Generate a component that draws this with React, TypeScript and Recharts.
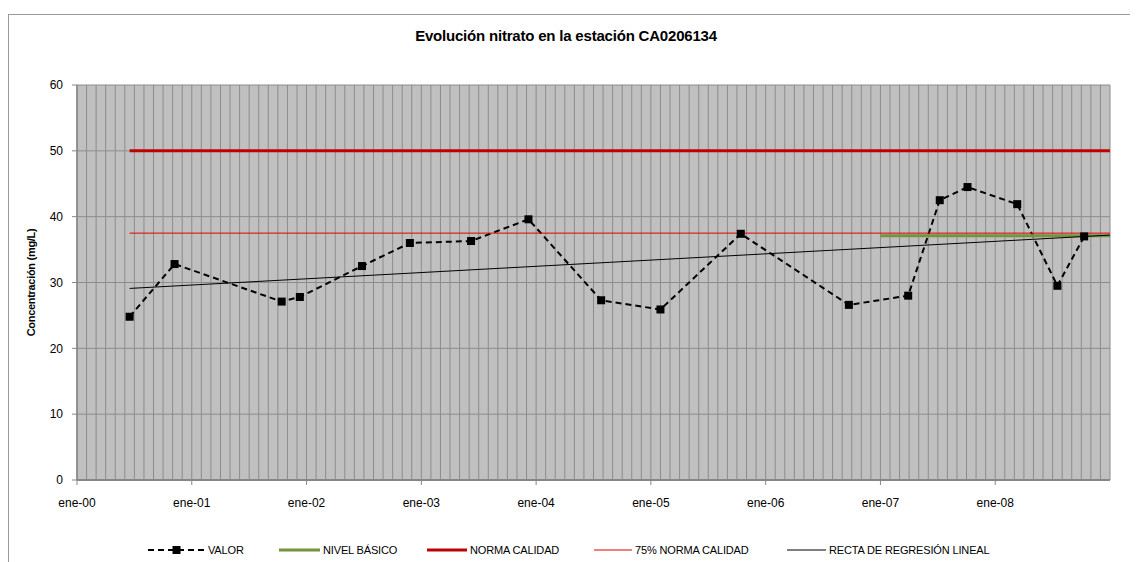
import React from "react";
import { LineChart, Line, XAxis, YAxis, CartesianGrid, Legend } from "recharts";

// meses contados desde ene-00
const valorMonths = [5.5, 10.2, 21.4, 23.3, 29.8, 34.8, 41.2, 47.2, 54.8, 61.0, 69.4, 80.7, 86.9, 90.2, 93.1, 98.3, 102.5, 105.3];
const valorValues = [24.8, 32.8, 27.1, 27.8, 32.5, 36.0, 36.3, 39.6, 27.3, 25.9, 37.4, 26.6, 28.0, 42.5, 44.5, 41.9, 29.5, 37.0];

const nivelMonths = [84, 108];
const nivelValues = [37.1, 37.1];

const normaMonths = [5.5, 108];
const normaValues = [50, 50];

const norma75Months = [5.5, 108];
const norma75Values = [37.5, 37.5];

const rectaMonths = [5.5, 108];
const rectaValues = [29.1, 37.2];

const yearLabels = ["ene-00", "ene-01", "ene-02", "ene-03", "ene-04", "ene-05", "ene-06", "ene-07", "ene-08"];
const yTicks = [0, 10, 20, 30, 40, 50, 60];
const monthTicks = Array.from({ length: 109 }, (_, i) => i);

const FONT = "Arial, 'Liberation Sans', sans-serif";

const toPoints = (months: number[], values: number[]) =>
  months.map((m, i) => ({ mes: m, valor: values[i] }));

const valorData = toPoints(valorMonths, valorValues);
const nivelData = toPoints(nivelMonths, nivelValues);
const normaData = toPoints(normaMonths, normaValues);
const norma75Data = toPoints(norma75Months, norma75Values);
const rectaData = toPoints(rectaMonths, rectaValues);

const SquareDot = (props: any) => {
  const { cx, cy } = props;
  if (cx == null || cy == null) return <g />;
  return <rect x={cx - 4} y={cy - 4} width={8} height={8} fill="#000" />;
};

const MonthTick = (props: any) => {
  const { x, y, payload } = props;
  const m = payload.value;
  if (m % 12 !== 0 || m >= 108) return <g />;
  return (
    <g>
      <line x1={x} y1={y} x2={x} y2={y + 5} stroke="#868686" />
      <text x={x} y={y + 27} textAnchor="middle" fontSize={12} fill="#000" fontFamily={FONT}>
        {yearLabels[m / 12]}
      </text>
    </g>
  );
};

const YTitle = (props: any) => {
  const vb = props.viewBox || { y: 77, height: 395 };
  const cx = 23;
  const cy = vb.y + vb.height / 2;
  return (
    <text
      x={cx}
      y={cy}
      transform={`rotate(-90, ${cx}, ${cy})`}
      textAnchor="middle"
      dominantBaseline="central"
      fontSize={11}
      fontWeight="bold"
      letterSpacing={-0.3}
      fontFamily={FONT}
      fill="#000"
    >
      Concentración (mg/L)
    </text>
  );
};

const legendItems = [
  { label: "VALOR", x: 140, w: 57, color: "#000", width: 2, dash: "6 4", square: true },
  { label: "NIVEL BÁSICO", x: 271, w: 41, color: "#77933C", width: 3 },
  { label: "NORMA CALIDAD", x: 419, w: 40, color: "#C00000", width: 3 },
  { label: "75% NORMA CALIDAD", x: 586, w: 38, color: "#E00000", width: 1 },
  { label: "RECTA DE REGRESIÓN LINEAL", x: 779, w: 39, color: "#000", width: 1 },
];

const LegendBox = () => (
  <div style={{ position: "relative", width: 1130, height: 16, fontFamily: FONT }}>
    {legendItems.map((it) => (
      <div key={it.label} style={{ position: "absolute", left: it.x, top: 0, height: 16, display: "flex", alignItems: "center" }}>
        <svg width={it.w} height={16} style={{ display: "block" }}>
          <line x1={0} y1={8} x2={it.w} y2={8} stroke={it.color} strokeWidth={it.width} strokeDasharray={it.dash} />
          {it.square && <rect x={it.w / 2 - 4} y={4} width={8} height={8} fill="#000" />}
        </svg>
        <span style={{ fontSize: 11, letterSpacing: -0.15, marginLeft: 3, color: "#000", whiteSpace: "nowrap" }}>{it.label}</span>
      </div>
    ))}
  </div>
);

export default function App() {
  return (
    <div style={{ position: "relative", width: 1130, height: 554, overflow: "hidden", background: "#fff" }}>
      <div
        style={{
          position: "absolute",
          left: 0,
          top: 6,
          width: 1200,
          height: 700,
          borderLeft: "1px solid #9a9a9a",
          borderTop: "1px solid #9a9a9a",
        }}
      />
      <div
        style={{
          position: "absolute",
          left: 0,
          top: 19,
          width: 1116,
          textAlign: "center",
          fontFamily: FONT,
          fontSize: 15,
          fontWeight: "bold",
          letterSpacing: -0.2,
          lineHeight: "18px",
        }}
      >
        Evolución nitrato en la estación CA0206134
      </div>
      <LineChart width={1130} height={554} margin={{ top: 77, right: 28, left: 0, bottom: 4 }}>
        <CartesianGrid fill="#C0C0C0" stroke="#8C8C8C" />
        <XAxis
          dataKey="mes"
          type="number"
          domain={[0, 108]}
          ticks={monthTicks}
          interval={0}
          height={62}
          tickSize={0}
          tickMargin={0}
          tickLine={false}
          tick={<MonthTick />}
          axisLine={{ stroke: "#868686", strokeWidth: 2 }}
          allowDataOverflow
        />
        <YAxis
          type="number"
          domain={[0, 60]}
          ticks={yTicks}
          width={69}
          tickSize={5}
          tickMargin={9}
          tick={{ fontSize: 12, fill: "#000", fontFamily: FONT }}
          tickLine={{ stroke: "#868686" }}
          axisLine={{ stroke: "#868686", strokeWidth: 1.5 }}
          label={<YTitle />}
        />
        <Legend verticalAlign="bottom" height={16} content={() => <LegendBox />} />
        <Line
          data={valorData}
          dataKey="valor"
          type="linear"
          stroke="#000"
          strokeWidth={2}
          strokeDasharray="6 4"
          dot={<SquareDot />}
          activeDot={false}
          isAnimationActive={false}
        />
        <Line data={nivelData} dataKey="valor" type="linear" stroke="#77933C" strokeWidth={3} dot={false} activeDot={false} isAnimationActive={false} />
        <Line data={normaData} dataKey="valor" type="linear" stroke="#C00000" strokeWidth={3} dot={false} activeDot={false} isAnimationActive={false} />
        <Line data={norma75Data} dataKey="valor" type="linear" stroke="#E00000" strokeWidth={1} dot={false} activeDot={false} isAnimationActive={false} />
        <Line data={rectaData} dataKey="valor" type="linear" stroke="#000" strokeWidth={1} dot={false} activeDot={false} isAnimationActive={false} />
      </LineChart>
    </div>
  );
}
